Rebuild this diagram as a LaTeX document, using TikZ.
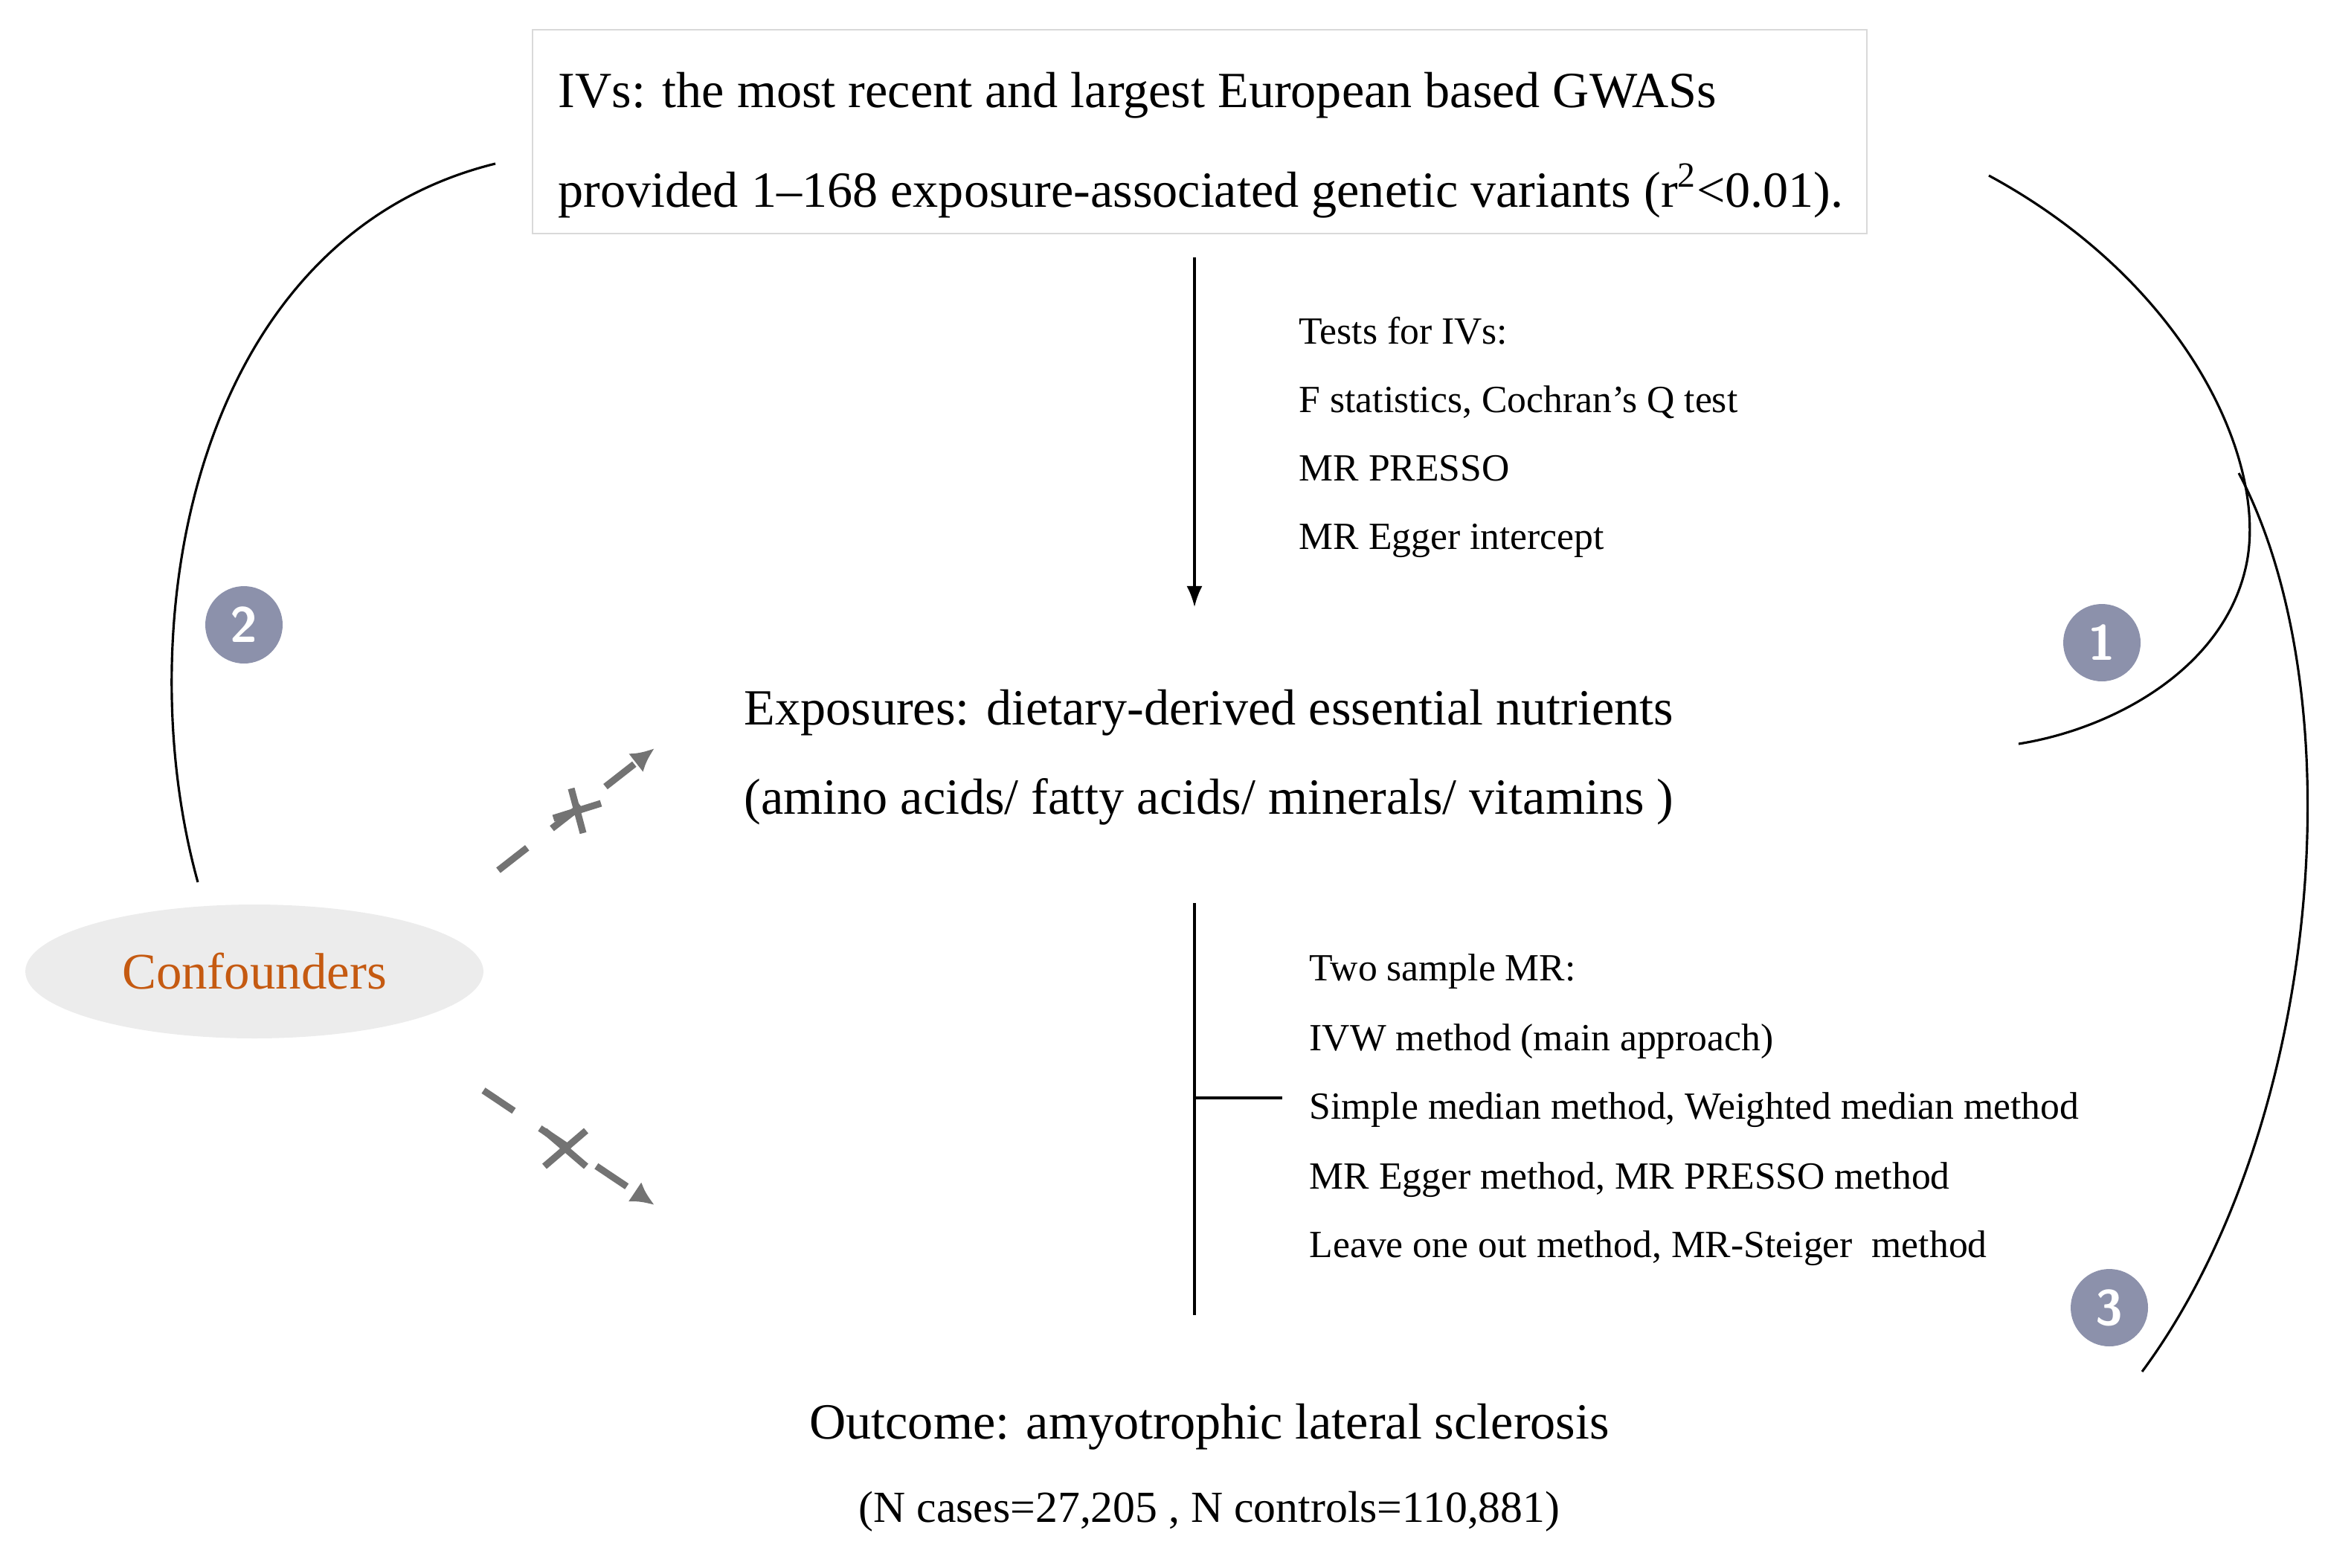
\documentclass[tikz,border=0pt]{standalone}
\usepackage{fontspec}
\setmainfont{Liberation Serif}
\usetikzlibrary{arrows.meta,shapes.geometric}
\definecolor{badge}{HTML}{8C91AB}
\definecolor{conf}{HTML}{C55A11}
\begin{document}
\begin{tikzpicture}[x=0.02cm,y=-0.02cm,
 big/.style={anchor=base west,inner sep=0pt,font=\fontsize{19.4}{21}\selectfont},
 small/.style={anchor=base west,inner sep=0pt,font=\fontsize{14.7}{16}\selectfont},
 bdg/.style={circle,fill=badge,minimum size=1.04cm,inner sep=0,text=white,font=\sffamily\fontsize{19}{20}\selectfont},
 arc/.style={line width=0.9pt},
 dashar/.style={gray!90!black,line width=2.6pt,dash pattern=on 14pt off 12pt,-{Latex[length=9pt,width=9pt]}},
 cross/.style={gray!90!black,line width=2.6pt}]
\useasboundingbox (0,0) rectangle (1565,1053.5);
\draw[gray!30,line width=0.8pt] (358,20) rectangle (1255,157);
\node[big] (t1) at (375,72) {IVs: the most recent and largest European based GWASs};
\node[big] (t2) at (375,139) {provided 1\textendash168 exposure-associated genetic variants (r\textsuperscript{2}<0.01).};
\coordinate (a1) at (803,173); \coordinate (a2) at (803,408);
\draw[-{Latex[length=8pt,width=6pt]},line width=0.9pt] (a1) -- (a2);
\node[small] (s1) at (873,231) {Tests for IVs:};
\node[small] (s2) at (873,277) {F statistics, Cochran's Q test};
\node[small] (s3) at (873,323) {MR PRESSO};
\node[small] (s4) at (873,369) {MR Egger intercept};
\node[big] (e1) at (500,487) {Exposures: dietary-derived essential nutrients};
\node[big] (e2) at (500,547) {(amino acids/ fatty acids/ minerals/ vitamins )};
\coordinate (v1) at (803,607); \coordinate (v2) at (803,884);
\coordinate (h1) at (803,738); \coordinate (h2) at (862,738);
\draw[line width=0.9pt] (v1) -- (v2) (h1) -- (h2);
\node[small] (m1) at (880,659) {Two sample MR:};
\node[small] (m2) at (880,706) {IVW method (main approach)};
\node[small] (m3) at (880,752) {Simple median method, Weighted median method};
\node[small] (m4) at (880,799) {MR Egger method, MR PRESSO method};
\node[small] (m5) at (880,845) {Leave one out method, MR-Steiger\ \ method};
\node[anchor=base,inner sep=0pt,font=\fontsize{19.4}{21}\selectfont] (o1) at (813,967) {Outcome: amyotrophic lateral sclerosis};
\node[anchor=base,inner sep=0pt,font=\fontsize{17}{18}\selectfont] (o2) at (813,1023) {(N cases=27,205 , N controls=110,881)};
\node[ellipse,fill=gray!15,minimum width=6.16cm,minimum height=1.8cm,text=conf,font=\fontsize{19.6}{21}\selectfont] (cf) at (171,653) {Confounders};
\node[bdg] (b2) at (164,420) {\textbf{2}};
\node[bdg] (b1) at (1413,432) {\textbf{1}};
\node[bdg] (b3) at (1418,879) {\textbf{3}};
\draw[arc] (333,110) .. controls (130,160) and (85,420) .. (133,593);
\draw[arc] (1337,118) .. controls (1470,190) and (1525,310) .. (1510,380) .. controls (1495,450) and (1420,490) .. (1357,500);
\draw[arc] (1505,318) .. controls (1585,470) and (1560,760) .. (1440,922);
\coordinate (d1) at (335,585); \coordinate (d2) at (440,503);
\coordinate (d3) at (325,733); \coordinate (d4) at (440,810);
\draw[dashar] (d1) -- (d2);
\draw[dashar] (d3) -- (d4);
\draw[cross] (372,550) -- (404,540) (384,530) -- (392,560);
\draw[cross] (366,760) -- (394,784) (366,784) -- (394,760);
\end{tikzpicture}
\end{document}
